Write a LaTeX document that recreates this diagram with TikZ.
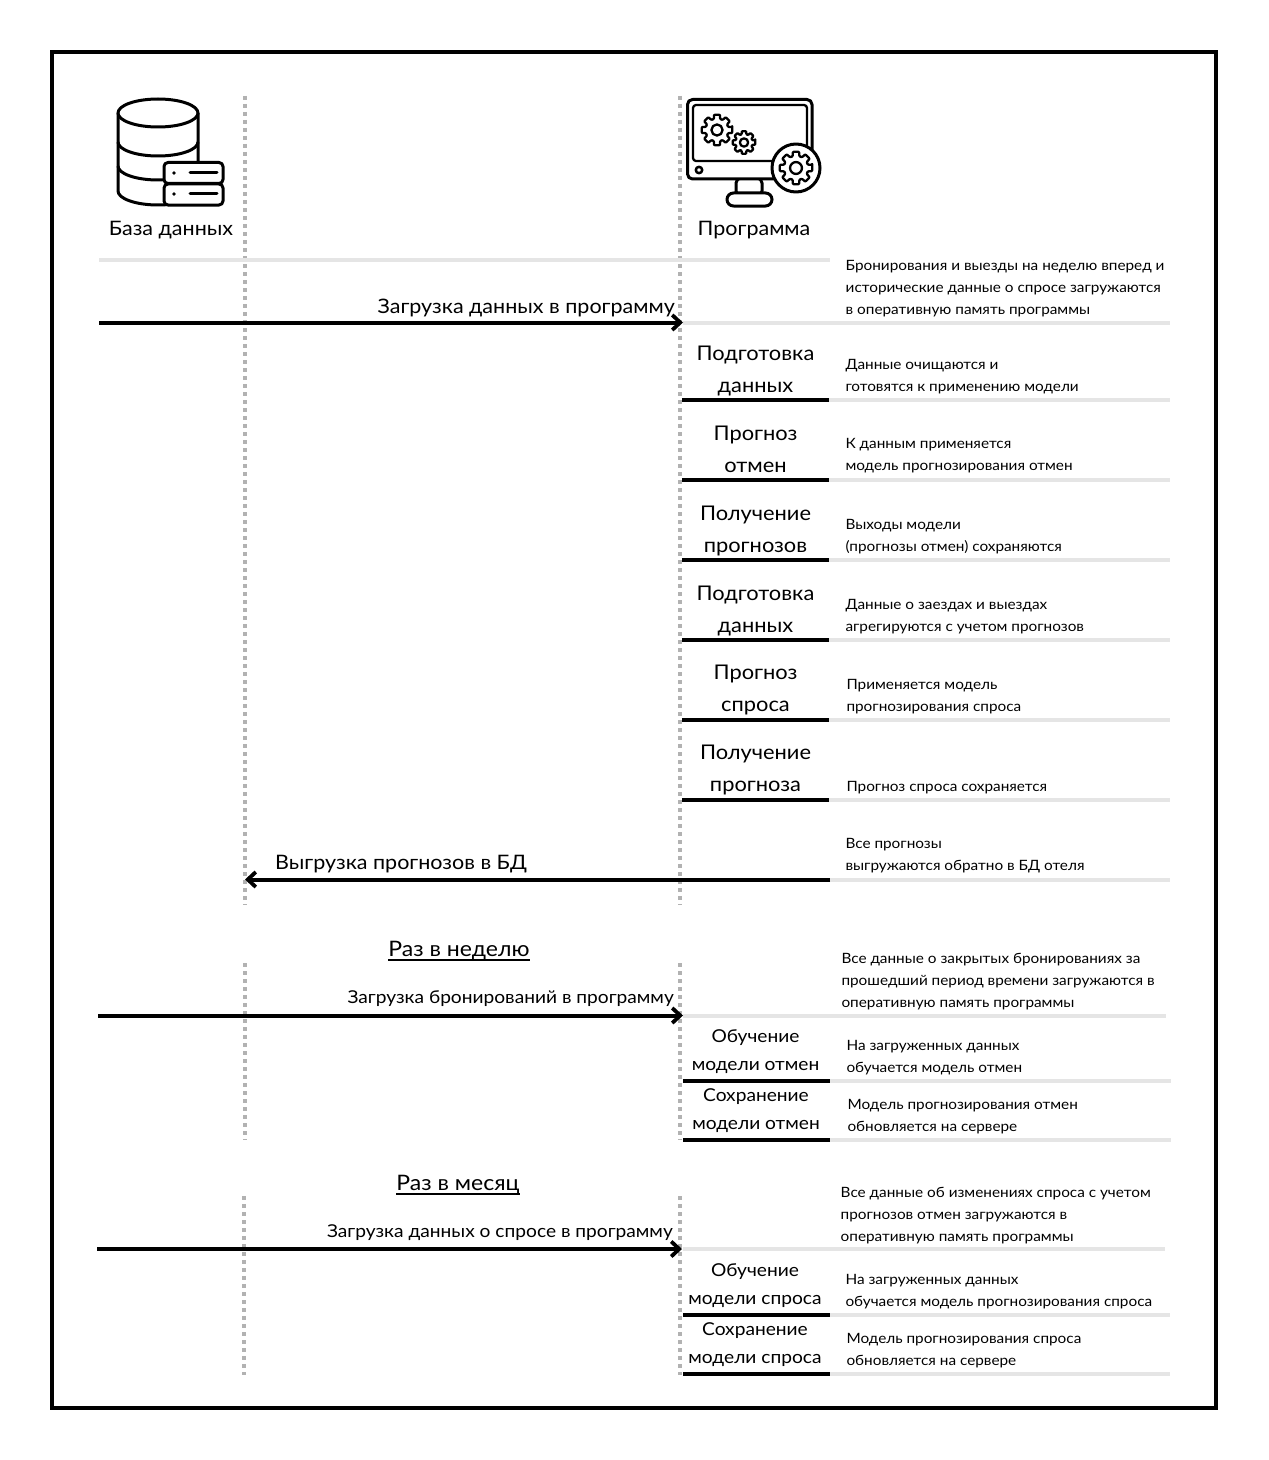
\documentclass[tikz,border=0pt]{standalone}
\usepackage{fontspec}
\setmainfont{Lato}
\newfontfamily\bigf[FakeStretch=1.08]{Lato}
\newfontfamily\smallf[FakeStretch=1.08]{Lato}
\newcommand{\ulbar}[1]{\setbox0\hbox{#1}\leavevmode\rlap{\copy0}\rule[-4.5bp]{\wd0}{1.7bp}}
\tikzset{
  x=1bp,y=-1bp,
  frame/.style={draw=black,line width=3.5bp},
  life/.style={draw=black!30,line width=4bp,dash pattern=on 4bp off 4bp},
  gline/.style={draw=black!10,line width=4bp},
  bline/.style={draw=black,line width=4bp},
  arr/.style={bline,-{Straight Barb[length=8bp,width=15bp,line width=3.8bp]}},
  big/.style={align=center,inner sep=0pt,font=\bigf\fontsize{20.3}{32}\selectfont},
  bigt/.style={align=center,inner sep=0pt,font=\bigf\fontsize{17.8}{28}\selectfont},
  lab/.style={inner sep=0pt,font=\bigf\fontsize{20}{26}\selectfont},
  labt/.style={inner sep=0pt,font=\bigf\fontsize{17.8}{24}\selectfont},
  small/.style={align=left,anchor=west,inner sep=0pt,font=\smallf\fontsize{14.25}{22}\selectfont},
  ic/.style={draw=black,line width=3bp,line join=round,fill=white},
}
\usetikzlibrary{arrows.meta}
\newcommand{\gearic}[3]{%
  \begin{scope}[shift={(#1,#2)}]
  \draw[ic,line width=2.3bp,rounded corners=0.8bp] (-11:#3)
    \foreach \a in {0,45,...,315}{ -- (\a-11:#3) -- (\a+11:#3) -- (\a+16:0.74*#3) -- (\a+29:0.74*#3) } -- cycle;
  \draw[ic,line width=2.3bp] (0,0) circle ({0.36*#3});
  \end{scope}}
\begin{document}
\begin{tikzpicture}
\useasboundingbox (0,0) rectangle (1268,1460);
\fill[white] (0,0) rectangle (1268,1460);
\draw[frame] (52,52) rectangle (1216,1408);

% coordinates
\foreach \n/\x/\y in {
 la1/244.5/96,la2/244.5/905,lb1/680/96,lb2/680/905,
 lc1/244.5/963,lc2/244.5/1140,ld1/680/963,ld2/680/1140,
 le1/243.5/1196,le2/243.5/1375,lf1/680/1196,lf2/680/1375,
 h0a/99/260,h0b/830/260,
 a1s/99/322.5,a1e/683/322.5,g1a/683/322.5,g1b/1170/322.5,
 a2s/830/879.5,a2e/245/879.5,g2b/1170/879.5,
 a3s/98/1015.5,a3e/683/1015.5,g3a/683/1015.5,g3b/1166/1015.5,
 a4s/97/1249,a4e/682/1249,g4a/683/1249,g4b/1165/1249}
 {\coordinate (\n) at (\x,\y);}

% lifelines
\draw[life] (la1)--(la2);
\draw[life] (lb1)--(lb2);
\draw[life] (lc1)--(lc2);
\draw[life] (ld1)--(ld2);
\draw[life] (le1)--(le2);
\draw[life] (lf1)--(lf2);

% gray rules
\draw[gline] (h0a)--(h0b);
\draw[gline] (g1a)--(g1b);
\draw[gline] (a2s)--(g2b);
\draw[gline] (g3a)--(g3b);
\draw[gline] (g4a)--(g4b);

% step rules
\foreach \nm/\y/\l/\r/\g in {s1/400/682/829/1170,s2/480/682/829/1170,s3/560/682/829/1170,s4/639.5/682/829/1170,s5/719.5/682/829/1170,s6/799.5/682/829/1170,s7/1081/683/830/1171,s8/1139.5/683/830/1171,s9/1315/683/830/1170,s10/1373.5/683/830/1170}{
  \coordinate (\nm a) at (\l,\y);
  \coordinate (\nm b) at (\r,\y);
  \coordinate (\nm c) at (\g,\y);
  \draw[gline] (\nm b)--(\nm c);
  \draw[bline] (\nm a)--(\nm b);
}

% arrows
\draw[arr] (a1s)--(a1e);
\draw[arr] (a2s)--(a2e);
\draw[arr] (a3s)--(a3e);
\draw[arr] (a4s)--(a4e);

% database icon
\draw[ic] (118,113) -- (118,191) arc[start angle=180,end angle=0,x radius=40,y radius=14] -- (198,113);
\draw[ic,fill=none] (118,142) arc[start angle=180,end angle=0,x radius=40,y radius=14];
\draw[ic,fill=none] (118,166) arc[start angle=180,end angle=0,x radius=40,y radius=14];
\draw[ic] (158,113) ellipse [x radius=40,y radius=14];
\draw[ic,rounded corners=4bp] (164,162.5) rectangle (223,183.5);
\draw[ic,rounded corners=4bp] (164,184) rectangle (223,205);
\fill (174,173) circle (1.8);
\fill (174,194) circle (1.8);
\draw[ic,line cap=round] (190,173) -- (217,173);
\draw[ic,line cap=round] (190,194) -- (217,194);

% monitor icon
\draw[ic,rounded corners=5bp] (736,178) rectangle (762,196);
\draw[ic,rounded corners=6.5bp] (727,193) rectangle (772,206);
\draw[ic,rounded corners=5bp] (687.5,99.5) rectangle (812,179);
\draw[ic,line width=2.3bp,rounded corners=3bp] (693,105) -- (807,105) -- (807,161) -- (693,161) -- cycle;
\draw[ic,line width=2.5bp] (699,170) circle (3.2);
\gearic{717}{130}{15.5}
\gearic{744}{142.5}{11.5}
\draw[ic] (796,168) circle (24);
\gearic{796}{168}{16.5}

% headings
\node[lab] (n1) at (171,230) {База данных};
\node[lab] (n2) at (754,230) {Программа};

% arrow labels
\node[lab,anchor=base east] (m1) at (675,313) {Загрузка данных в программу};
\node[lab,anchor=base west] (m2) at (275,869) {Выгрузка прогнозов в БД};
\node[labt,anchor=base east] (m3) at (674,1003) {Загрузка бронирований в программу};
\node[labt,anchor=base east] (m4) at (673,1237) {Загрузка данных о спросе в программу};
\node[lab,font=\bigf\fontsize{21.4}{26}\selectfont] (r1) at (459,951) {\ulbar{Раз в неделю}};
\node[lab,font=\bigf\fontsize{21.4}{26}\selectfont] (r2) at (458,1185) {\ulbar{Раз в месяц}};

% step titles
\node[big] (t1) at (755.5,371) {Подготовка\\данных};
\node[big] (t2) at (755.5,449) {Прогноз\\отмен};
\node[big] (t3) at (755.5,531) {Получение\\прогнозов};
\node[big] (t4) at (755.5,611) {Подготовка\\данных};
\node[big] (t5) at (755.5,690) {Прогноз\\спроса};
\node[big] (t6) at (755.5,770) {Получение\\прогноза};
\node[bigt] (t7) at (755.5,1052) {Обучение\\модели отмен};
\node[bigt] (t8) at (756,1111) {Сохранение\\модели отмен};
\node[bigt] (t9) at (755,1286) {Обучение\\модели спроса};
\node[bigt] (t10) at (755,1345) {Сохранение\\модели спроса};

% descriptions
\node[small] (d0) at (845.5,289) {Бронирования и выезды на неделю вперед и\\исторические данные о спросе загружаются\\в оперативную память программы};
\node[small] (d1) at (845.3,377) {Данные очищаются и\\готовятся к применению модели};
\node[small] (d2) at (845.3,456) {К данным применяется\\модель прогнозирования отмен};
\node[small] (d3) at (845.3,537) {Выходы модели\\(прогнозы отмен) сохраняются};
\node[small] (d4) at (845.3,617) {Данные о заездах и выездах\\агрегируются с учетом прогнозов};
\node[small] (d5) at (846.3,697) {Применяется модель\\прогнозирования спроса};
\node[small] (d6) at (846.3,788) {Прогноз спроса сохраняется};
\node[small] (d7) at (845.3,856) {Все прогнозы\\выгружаются обратно в БД отеля};
\node[small] (d8) at (841.3,982) {Все данные о закрытых бронированиях за\\прошедший период времени загружаются в\\оперативную память программы};
\node[small] (d9) at (846.3,1058) {На загруженных данных\\обучается модель отмен};
\node[small] (d10) at (847.3,1117) {Модель прогнозирования отмен\\обновляется на сервере};
\node[small] (d11) at (840.5,1215.5) {Все данные об изменениях спроса с учетом\\прогнозов отмен загружаются в\\оперативную память программы};
\node[small] (d12) at (845.3,1292) {На загруженных данных\\обучается модель прогнозирования спроса};
\node[small] (d13) at (846.3,1351) {Модель прогнозирования спроса\\обновляется на сервере};
\end{tikzpicture}
\end{document}
